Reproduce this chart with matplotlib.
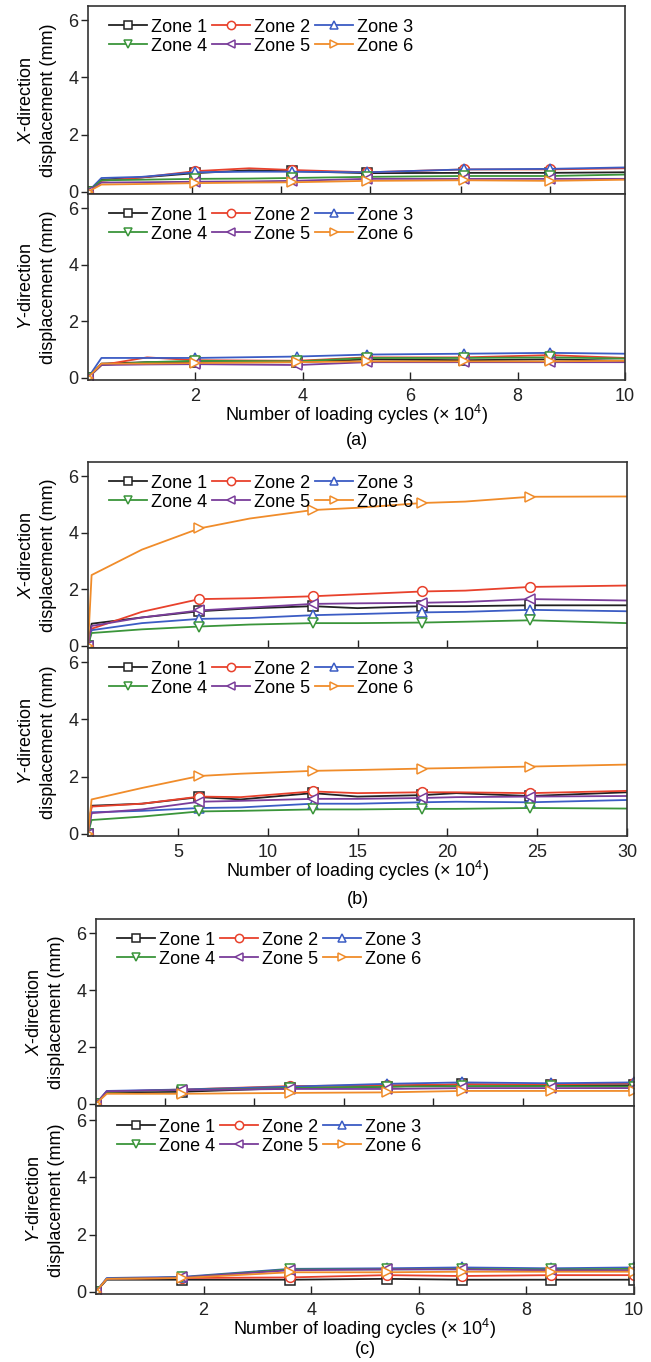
import numpy as np
import matplotlib.pyplot as plt

plt.rcParams['font.family'] = ['Liberation Sans', 'DejaVu Sans']
plt.rcParams['mathtext.fontset'] = 'custom'
plt.rcParams['mathtext.rm'] = 'Liberation Sans'
plt.rcParams['mathtext.it'] = 'Liberation Sans:italic'
plt.rcParams['font.size'] = 13

ZONES = ['Zone 1', 'Zone 2', 'Zone 3', 'Zone 4', 'Zone 5', 'Zone 6']
COLORS = ['#222222', '#e8412c', '#3b5cc4', '#3a953a', '#7a3d9a', '#f08c2a']
MARKERS = ['s', 'o', '^', 'v', '<', '>']

# ---- panel (a): 0-10 x 10^4 cycles ----
a_x_xdir = [0, 0.25, 1, 2, 3, 3.8, 5.2, 7, 8.6, 10]
a_mark_xdir = [0, 3, 5, 6, 7, 8]
a_xdir = [
    [0, 0.42, 0.50, 0.65, 0.75, 0.72, 0.65, 0.66, 0.66, 0.68],
    [0, 0.38, 0.50, 0.72, 0.82, 0.76, 0.68, 0.78, 0.78, 0.82],
    [0, 0.48, 0.52, 0.68, 0.70, 0.70, 0.68, 0.78, 0.80, 0.85],
    [0, 0.40, 0.42, 0.45, 0.46, 0.48, 0.52, 0.55, 0.55, 0.60],
    [0, 0.32, 0.33, 0.35, 0.36, 0.38, 0.45, 0.45, 0.45, 0.45],
    [0, 0.25, 0.27, 0.30, 0.32, 0.33, 0.38, 0.40, 0.38, 0.42],
]
a_x_ydir = [0, 0.25, 1.1, 2, 3.9, 5.2, 7, 8.6, 10]
a_mark_ydir = [0, 3, 4, 5, 6, 7]
a_ydir = [
    [0, 0.50, 0.55, 0.55, 0.55, 0.65, 0.62, 0.65, 0.60],
    [0, 0.45, 0.72, 0.62, 0.60, 0.72, 0.72, 0.80, 0.70],
    [0, 0.70, 0.70, 0.70, 0.75, 0.82, 0.85, 0.88, 0.85],
    [0, 0.45, 0.55, 0.60, 0.58, 0.70, 0.70, 0.72, 0.68],
    [0, 0.45, 0.47, 0.48, 0.45, 0.55, 0.55, 0.55, 0.55],
    [0, 0.50, 0.50, 0.52, 0.55, 0.58, 0.58, 0.58, 0.60],
]

# ---- panel (b): 0-30 x 10^4 cycles ----
b_x_xdir = [0, 0.2, 3, 6.2, 9, 12.5, 15, 18.6, 21, 24.6, 30]
b_mark_xdir = [0, 3, 5, 7, 9]
b_xdir = [
    [0, 0.78, 1.00, 1.22, 1.32, 1.40, 1.33, 1.40, 1.40, 1.43, 1.43],
    [0, 0.60, 1.20, 1.65, 1.68, 1.75, 1.82, 1.92, 1.95, 2.08, 2.13],
    [0, 0.55, 0.80, 0.95, 0.98, 1.08, 1.12, 1.18, 1.20, 1.27, 1.22],
    [0, 0.45, 0.58, 0.68, 0.75, 0.80, 0.80, 0.82, 0.85, 0.90, 0.80],
    [0, 0.70, 1.00, 1.25, 1.35, 1.48, 1.50, 1.52, 1.55, 1.65, 1.60],
    [0, 2.50, 3.40, 4.15, 4.50, 4.80, 4.88, 5.05, 5.10, 5.27, 5.28],
]
b_x_ydir = [0, 0.2, 3, 6.2, 8.5, 12.5, 15, 18.6, 20.5, 24.6, 30]
b_mark_ydir = [0, 3, 5, 7, 9]
b_ydir = [
    [0, 0.98, 1.05, 1.28, 1.20, 1.42, 1.30, 1.35, 1.42, 1.32, 1.45],
    [0, 0.95, 1.05, 1.30, 1.28, 1.48, 1.42, 1.45, 1.45, 1.42, 1.50],
    [0, 0.75, 0.80, 0.90, 0.92, 1.05, 1.05, 1.10, 1.12, 1.10, 1.18],
    [0, 0.48, 0.60, 0.78, 0.80, 0.85, 0.85, 0.87, 0.87, 0.90, 0.88],
    [0, 0.72, 0.85, 1.12, 1.15, 1.22, 1.22, 1.25, 1.28, 1.30, 1.32],
    [0, 1.20, 1.60, 2.02, 2.10, 2.20, 2.23, 2.28, 2.30, 2.35, 2.42],
]

# ---- panel (c): 0-10 x 10^4 cycles ----
c_x = [0, 0.2, 1.6, 3.6, 5.4, 6.8, 8.45, 10]
c_mark = [0, 2, 3, 4, 5, 6, 7]
c_xdir = [
    [0, 0.40, 0.42, 0.55, 0.60, 0.68, 0.65, 0.65],
    [0, 0.42, 0.50, 0.62, 0.65, 0.68, 0.68, 0.72],
    [0, 0.45, 0.50, 0.60, 0.70, 0.75, 0.72, 0.75],
    [0, 0.42, 0.48, 0.55, 0.60, 0.62, 0.62, 0.60],
    [0, 0.44, 0.48, 0.52, 0.52, 0.55, 0.55, 0.55],
    [0, 0.35, 0.35, 0.38, 0.40, 0.45, 0.45, 0.45],
]
c_ydir = [
    [0, 0.42, 0.42, 0.42, 0.45, 0.42, 0.42, 0.42],
    [0, 0.45, 0.48, 0.50, 0.58, 0.55, 0.58, 0.58],
    [0, 0.48, 0.52, 0.80, 0.82, 0.85, 0.82, 0.85],
    [0, 0.45, 0.50, 0.78, 0.78, 0.80, 0.78, 0.80],
    [0, 0.45, 0.50, 0.75, 0.78, 0.78, 0.75, 0.75],
    [0, 0.45, 0.48, 0.68, 0.68, 0.70, 0.70, 0.70],
]

W, H = 651, 1362
fig = plt.figure(figsize=(W / 100, H / 100), dpi=100)


def make_axes(left, right, top, bottom):
    return fig.add_axes([left / W, 1 - bottom / H, (right - left) / W, (bottom - top) / H])


def draw(ax, x, series, marks, xmax, ylabel):
    lines = []
    for i, ys in enumerate(series):
        ln, = ax.plot(x, ys, color=COLORS[i], lw=1.3, marker=MARKERS[i], ms=7,
                      mfc='white', mec=COLORS[i], mew=1.1, markevery=marks, label=ZONES[i])
        lines.append(ln)
    ax.set_xlim(0, xmax)
    ax.set_ylim(-0.08, 6.5)
    ax.set_yticks([0, 2, 4, 6])
    ax.set_ylabel(ylabel, linespacing=1.35)
    ax.tick_params(axis='y', direction='out', length=5, width=1, pad=2, colors='#222222')
    ax.tick_params(axis='x', direction='in', length=6, width=1, pad=6, colors='#222222')
    for s in ax.spines.values():
        s.set_color('#333333')
        s.set_linewidth(1.2)
    # legend fills column-wise, so reorder to get rows 1-2-3 / 4-5-6
    order = [0, 3, 1, 4, 2, 5]
    ax.legend([lines[k] for k in order], [ZONES[k] for k in order],
              loc='upper left', ncol=3, frameon=False, handlelength=2.1,
              handletextpad=0.25, columnspacing=0.25, labelspacing=0.12,
              borderaxespad=0.3, bbox_to_anchor=(0.015, 1.0), markerscale=0.85)


xlab = 'Number of loading cycles (× 10$^4$)'
xtitle = '$\\mathit{X}$-direction\ndisplacement (mm)'
ytitle = '$\\mathit{Y}$-direction\ndisplacement (mm)'

panels = [
    # left, right, top, mid, bottom, xmax, top ticks, bottom ticks, letter, letter y
    (88, 625, 6, 194, 380, 10, [1.93, 3.6, 5.26, 6.94, 8.6], [2, 4, 6, 8, 10], '(a)', 440,
     (a_x_xdir, a_xdir, a_mark_xdir), (a_x_ydir, a_ydir, a_mark_ydir)),
    (88, 627, 462, 648, 836, 30, [5, 10, 15, 20, 25], [5, 10, 15, 20, 25, 30], '(b)', 900,
     (b_x_xdir, b_xdir, b_mark_xdir), (b_x_ydir, b_ydir, b_mark_ydir)),
    (96, 634, 919, 1106, 1294, 10, [1.28, 2.94, 4.61, 6.27, 7.94], [2, 4, 6, 8, 10], '(c)', 1349,
     (c_x, c_xdir, c_mark), (c_x, c_ydir, c_mark)),
]

for (l, r, t, m, b, xmax, tticks, bticks, letter, ly, xd, yd) in panels:
    ax1 = make_axes(l, r, t, m)
    ax2 = make_axes(l, r, m, b)
    draw(ax1, xd[0], xd[1], xd[2], xmax, xtitle)
    draw(ax2, yd[0], yd[1], yd[2], xmax, ytitle)
    ax1.set_xticks(tticks)
    ax1.set_xticklabels([])
    ax2.set_xticks(bticks)
    ax2.set_xlabel(xlab, labelpad=-2)
    for ax in (ax1, ax2):
        ax.yaxis.set_label_coords(-0.058, 0.5)
    fig.text((l + r) / 2 / W, 1 - ly / H, letter, ha='center', va='center', fontsize=13)

fig.savefig('out.png', dpi=100)
